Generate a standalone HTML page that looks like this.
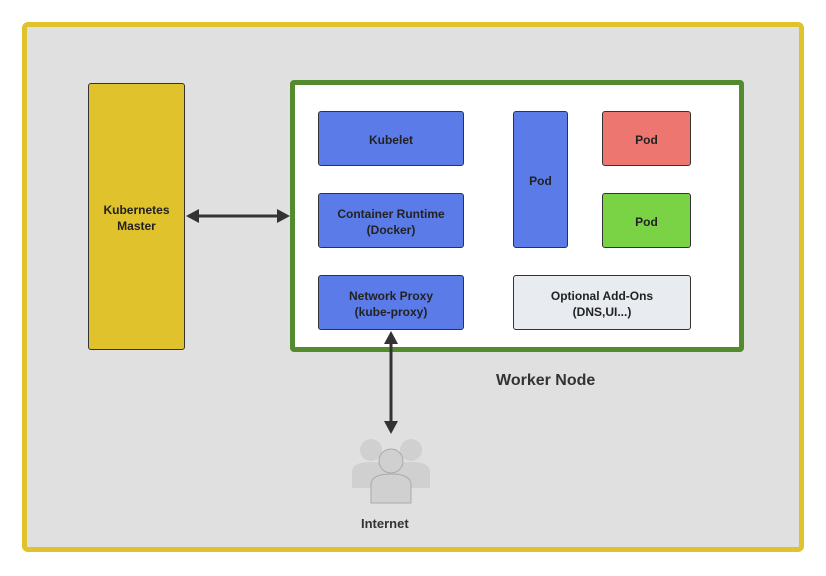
<!DOCTYPE html>
<html><head><style>
body{margin:0;width:826px;height:576px;background:#fff;font-family:"Liberation Sans",sans-serif;}
.b{position:absolute;box-sizing:border-box;border:1.5px solid #333;border-radius:3px;display:flex;align-items:center;justify-content:center;text-align:center;font-size:12px;font-weight:bold;color:#222;line-height:16px;padding-top:2px;}
.blue{background:#5b7be8;}
</style></head><body>
<div style="position:absolute;left:22px;top:22px;width:782px;height:530px;box-sizing:border-box;border:5px solid #e0c22c;border-radius:6px;background:#e0e0e0;"></div>
<div class="b" style="left:88px;top:83px;width:97px;height:267px;background:#e0c22c;">Kubernetes<br>Master</div>
<div style="position:absolute;left:290px;top:80px;width:454px;height:272px;box-sizing:border-box;border:5px solid #558b2f;border-radius:4px;background:#fff;"></div>
<div class="b blue" style="left:318px;top:111px;width:146px;height:55px;">Kubelet</div>
<div class="b blue" style="left:318px;top:193px;width:146px;height:55px;">Container Runtime<br>(Docker)</div>
<div class="b blue" style="left:318px;top:275px;width:146px;height:55px;">Network Proxy<br>(kube-proxy)</div>
<div class="b blue" style="left:513px;top:111px;width:55px;height:137px;">Pod</div>
<div class="b" style="left:602px;top:111px;width:89px;height:55px;background:#ee7670;">Pod</div>
<div class="b" style="left:602px;top:193px;width:89px;height:55px;background:#7ad344;">Pod</div>
<div class="b" style="left:513px;top:275px;width:178px;height:55px;background:#e8ebef;">Optional Add-Ons<br>(DNS,UI...)</div>
<div style="position:absolute;left:496px;top:372px;font-size:16px;font-weight:bold;color:#333;">Worker Node</div>
<div style="position:absolute;left:361px;top:516px;font-size:13px;font-weight:bold;color:#333;">Internet</div>
<svg width="826" height="576" style="position:absolute;left:0;top:0">
<g stroke="#333" stroke-width="3" fill="#333">
<line x1="196" y1="216" x2="280" y2="216"/>
<polygon points="186,216 199,209 199,223" stroke="none"/>
<polygon points="290,216 277,209 277,223" stroke="none"/>
<line x1="391" y1="342" x2="391" y2="424"/>
<polygon points="391,331 384,344 398,344" stroke="none"/>
<polygon points="391,434 384,421 398,421" stroke="none"/>
</g>
<g fill="#d0d0d0">
<circle cx="371" cy="450" r="11"/><circle cx="411" cy="450" r="11"/>
<path d="M352,488 v-16 q0,-10 19,-10 q19,0 19,10 v16z"/>
<path d="M392,488 v-16 q0,-10 19,-10 q19,0 19,10 v16z"/>
<circle cx="391" cy="461" r="12" stroke="#aaa" stroke-width="1"/>
<path d="M371,503 v-18 q0,-11 20,-11 q20,0 20,11 v18z" stroke="#aaa" stroke-width="1"/>
</g>
</svg>
</body></html>
